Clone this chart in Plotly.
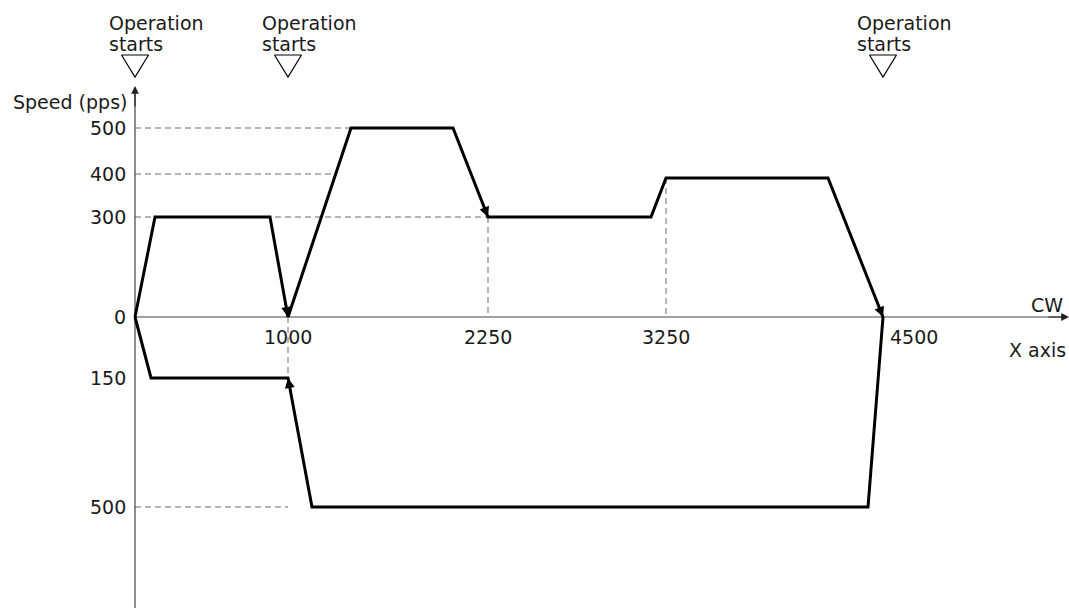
import plotly.graph_objects as go

# ---- Data (schematic diagram units; drawing is not to scale) ----
speed_labels = ["500", "400", "300", "0", "150", "500"]
speed_levels = [189, 143, 100, 0, -61, -190]      # drawn height of each labelled speed

position_labels = ["1000", "2250", "3250", "4500"]
position_levels = [153, 353, 531, 748]            # drawn x of each labelled position

# Operation 1: 0 -> 1000 (CW, 300 pps)
op1_x = [0, 20, 135, 153]
op1_y = [0, 100, 100, 0]
# Operation 2: 1000 -> 4500 (CW, 500 -> 300 -> 400 pps)
op2_x = [153, 216, 318, 353, 516, 531, 693, 748]
op2_y = [0, 189, 189, 100, 100, 139, 139, 0]
# Operation 3: 4500 -> 1000 -> 0 (CCW, 500 -> 150 pps)
op3_x = [748, 733, 177, 153, 16, 0]
op3_y = [0, -190, -190, -61, -61, 0]

start_x = [0, 153, 748]                           # where "Operation starts" marks sit

# arrows: (path x, path y, tip index)
arrow_defs = [(op1_x, op1_y, 3), (op2_x, op2_y, 3), (op2_x, op2_y, 7), (op3_x, op3_y, 3)]

# dashed guide lines: (x0, y0, x1, y1)
guides = [
    (0, speed_levels[0], op2_x[1], speed_levels[0]),
    (0, speed_levels[1], 201, speed_levels[1]),
    (0, speed_levels[2], position_levels[1], speed_levels[2]),
    (position_levels[1], speed_levels[2], position_levels[1], 0),
    (position_levels[2], op2_y[5], position_levels[2], 0),
    (position_levels[0], 0, position_levels[0], speed_levels[4]),
    (0, speed_levels[5], position_levels[0], speed_levels[5]),
]

X_END = 932
Y_TOP = 229
Y_BOT = -291

FONT = "DejaVu Sans"
FS = 19
TXT = "#1a1a1a"

fig = go.Figure()

# guides
for x0, y0, x1, y1 in guides:
    fig.add_trace(go.Scatter(x=[x0, x1], y=[y0, y1], mode="lines",
                             line=dict(color="#6a6a6a", width=1, dash="6px,4px"),
                             hoverinfo="skip"))

# axes lines
fig.add_trace(go.Scatter(x=[0, X_END], y=[0, 0], mode="lines",
                         line=dict(color="#444444", width=1.2), hoverinfo="skip"))
fig.add_trace(go.Scatter(x=[0, 0], y=[Y_BOT, Y_TOP], mode="lines",
                         line=dict(color="#444444", width=1.2), hoverinfo="skip"))

# profiles
for px, py in [(op1_x, op1_y), (op2_x, op2_y), (op3_x, op3_y)]:
    fig.add_trace(go.Scatter(x=px, y=py, mode="lines",
                             line=dict(color="black", width=3), hoverinfo="skip"))

# "Operation starts" triangles
tri_x, tri_y = [], []
for sx in start_x:
    tri_x += [sx - 13.5, sx + 13.5, sx, sx - 13.5, None]
    tri_y += [262, 262, 240, 262, None]
fig.add_trace(go.Scatter(x=tri_x, y=tri_y, mode="lines",
                         line=dict(color="black", width=1.2), hoverinfo="skip"))

ann = []
# arrowheads on the profile
for px, py, i in arrow_defs:
    tx, ty = px[i], py[i]
    bx, by = px[i - 1], py[i - 1]
    ax = tx + (bx - tx) * 0.15
    ay = ty + (by - ty) * 0.15
    ann.append(dict(x=tx, y=ty, ax=ax, ay=ay, xref="x", yref="y", axref="x", ayref="y",
                    text="", showarrow=True, arrowhead=2, arrowsize=1.0, arrowwidth=2,
                    arrowcolor="black", standoff=0))
# axis arrowheads
ann.append(dict(x=X_END + 2, y=0, ax=X_END - 20, ay=0, xref="x", yref="y", axref="x", ayref="y",
                text="", showarrow=True, arrowhead=2, arrowsize=1.3, arrowwidth=1.2,
                arrowcolor="#222222", standoff=0))
ann.append(dict(x=0, y=Y_TOP + 2, ax=0, ay=Y_TOP - 20, xref="x", yref="y", axref="x", ayref="y",
                text="", showarrow=True, arrowhead=2, arrowsize=1.3, arrowwidth=1.2,
                arrowcolor="#222222", standoff=0))

font = dict(family=FONT, size=FS, color=TXT)
# y tick labels
for lab, lv in zip(speed_labels, speed_levels):
    ann.append(dict(x=-7, y=lv, text=lab, showarrow=False, xanchor="right", yanchor="middle",
                    font=font))
# x tick labels
for lab, lv in zip(position_labels, position_levels):
    if lab == "4500":
        ann.append(dict(x=lv + 5, y=-20, text=lab, showarrow=False, xanchor="left",
                        yanchor="middle", font=font))
    else:
        ann.append(dict(x=lv, y=-20, text=lab, showarrow=False, xanchor="center",
                        yanchor="middle", font=font))
# axis titles
ann.append(dict(x=-6, y=215, text="Speed (pps)", showarrow=False, xanchor="right",
                yanchor="middle", font=font))
ann.append(dict(x=912, y=12, text="CW", showarrow=False, xanchor="center",
                yanchor="middle", font=font))
ann.append(dict(x=933, y=-33, text="X axis", showarrow=False, xanchor="right",
                yanchor="middle", font=font))
# operation starts text
for sx in start_x:
    ann.append(dict(x=sx - 28, y=294, text="Operation", showarrow=False, xanchor="left",
                    yanchor="middle", font=font))
    ann.append(dict(x=sx - 28, y=273, text="starts", showarrow=False, xanchor="left",
                    yanchor="middle", font=font))

fig.update_layout(
    width=1069, height=610,
    margin=dict(l=0, r=0, t=0, b=0),
    paper_bgcolor="white", plot_bgcolor="white",
    showlegend=False,
    xaxis=dict(visible=False, range=[-135, 934], fixedrange=True),
    yaxis=dict(visible=False, range=[-293, 317], fixedrange=True),
    annotations=ann,
)

fig.write_html("out.html",
               config={"displayModeBar": False, "staticPlot": True},
               post_script="document.body.style.margin='0';document.body.style.overflow='hidden';")
